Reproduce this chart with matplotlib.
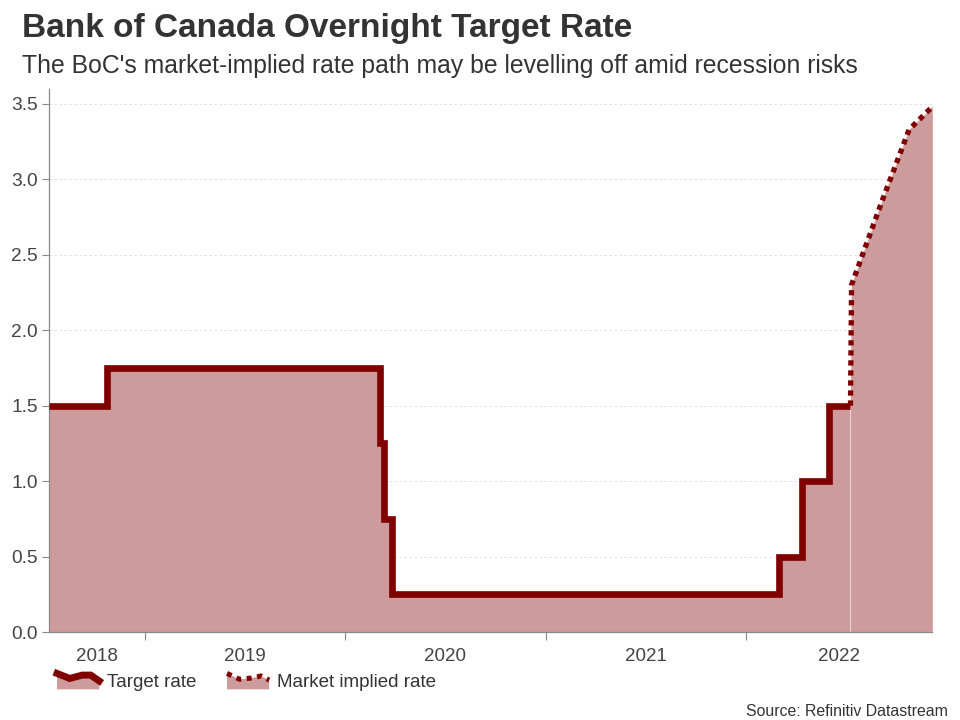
import matplotlib
matplotlib.use("Agg")
import matplotlib.pyplot as plt
import matplotlib.dates as mdates
from matplotlib.legend_handler import HandlerBase
from matplotlib.lines import Line2D
from matplotlib.patches import Polygon
import numpy as np
import pandas as pd

plt.rcParams['font.family'] = ['Liberation Sans', 'DejaVu Sans']

# ---- data ----
target_dates = ["2018-07-10", "2018-10-24", "2020-03-04", "2020-03-13", "2020-03-27",
                "2022-03-02", "2022-04-13", "2022-06-01", "2022-07-11"]
target_values = [1.50, 1.75, 1.25, 0.75, 0.25, 0.50, 1.00, 1.50, 1.50]

market_dates = ["2022-07-11", "2022-07-13", "2022-09-07", "2022-10-26", "2022-12-07"]
market_values = [1.50, 2.30, 2.86, 3.33, 3.48]

years = [2018, 2019, 2020, 2021, 2022]
title = "Bank of Canada Overnight Target Rate"
subtitle = "The BoC's market-implied rate path may be levelling off amid recession risks"
source = "Source: Refinitiv Datastream"
legend_labels = ["Target rate", "Market implied rate"]

LINE = "#800000"
FILL = "#cd9b9c"

td = pd.to_datetime(target_dates)
md = pd.to_datetime(market_dates)

fig = plt.figure(figsize=(9.6, 7.2), dpi=100)
ax = fig.add_axes([0.051, 0.1222, 0.920, 0.7545])

ax.fill_between(td, target_values, 0, step='post', facecolor=FILL, edgecolor=FILL, lw=0.3, zorder=1)
ax.fill_between(md, market_values, 0, facecolor=FILL, edgecolor=FILL, lw=0.3, zorder=1)
ax.plot(td, target_values, drawstyle='steps-post', color=LINE, lw=4.8,
        solid_joinstyle='miter', solid_capstyle='butt', zorder=3)
ax.plot(md, market_values, color=LINE, lw=3.8, linestyle=(0, (1, 0.9)),
        dash_capstyle='butt', zorder=3)

x0 = mdates.date2num(td[0])
x1 = mdates.date2num(md[-1])
ax.set_xlim(x0, x1)
ax.set_ylim(0, 3.6)

ax.set_yticks(np.arange(0, 3.51, 0.5))
ax.set_yticklabels([f"{v:.1f}" for v in np.arange(0, 3.51, 0.5)])
ax.grid(axis='y', color='#dddddd', linestyle=(0, (3, 3)), lw=0.6, zorder=0)
ax.set_axisbelow(True)

# year boundaries (ticks) and centred year labels
bounds = [mdates.date2num(pd.Timestamp(f"{y}-01-01")) for y in years[1:]]
ax.set_xticks(bounds)
ax.set_xticklabels([])
ax.tick_params(axis='x', which='major', length=6, color='#888888')
edges = [x0] + bounds + [x1]
mids = [(edges[i] + edges[i + 1]) / 2 for i in range(len(years))]
ax.set_xticks(mids, minor=True)
ax.set_xticklabels([str(y) for y in years], minor=True)
ax.tick_params(axis='x', which='minor', length=0, pad=11.5, labelsize=13.5, labelcolor='#444444')
ax.tick_params(axis='y', length=5, color='#888888', labelsize=13.8, labelcolor='#444444', pad=3)

for s in ['top', 'right']:
    ax.spines[s].set_visible(False)
for s in ['left', 'bottom']:
    ax.spines[s].set_color('#888888')
    ax.spines[s].set_linewidth(0.9)

fig.text(0.023, 0.9486, title, fontsize=24, fontweight='bold', color='#333333', va='baseline')
fig.text(0.023, 0.8986, subtitle, fontsize=17.85, color='#333333', va='baseline')
fig.text(0.987, 0.0125, source, fontsize=11.4, color='#333333', ha='right', va='center')


class ZigHandler(HandlerBase):
    def __init__(self, dotted=False):
        super().__init__()
        self.dotted = dotted

    def create_artists(self, legend, orig_handle, xdescent, ydescent, width, height, fontsize, trans):
        if self.dotted:
            xs = np.array([0, 0.3, 0.6, 0.8, 1.0])
            ys = np.array([0.95, 0.6, 0.68, 0.8, 0.55])
        else:
            xs = np.array([0, 0.3, 0.6, 0.8, 1.0])
            ys = np.array([0.95, 0.65, 0.85, 0.85, 0.5])
        X = -xdescent + xs * width
        Y = -ydescent + ys * height
        poly = Polygon(np.column_stack([np.r_[X, X[-1], X[0]], np.r_[Y, -ydescent, -ydescent]]),
                       closed=True, facecolor=FILL, edgecolor='none', transform=trans)
        if self.dotted:
            ln = Line2D(X, Y, color=LINE, lw=3.6, linestyle=(0, (1, 1.1)), dash_capstyle='butt', transform=trans)
        else:
            ln = Line2D(X, Y, color=LINE, lw=5.0, solid_joinstyle='miter', transform=trans)
        return [poly, ln]


h1 = Line2D([], [])
h2 = Line2D([], [])
leg = fig.legend([h1, h2], legend_labels, loc='center left', bbox_to_anchor=(0.0594, 0.0528),
                 ncol=2, frameon=False, fontsize=13.5, handlelength=2.25, handleheight=1.0,
                 handletextpad=0.4, columnspacing=1.65, borderpad=0, borderaxespad=0,
                 handler_map={h1: ZigHandler(False), h2: ZigHandler(True)})
for t in leg.get_texts():
    t.set_color('#333333')

fig.savefig("out.png", dpi=100)
